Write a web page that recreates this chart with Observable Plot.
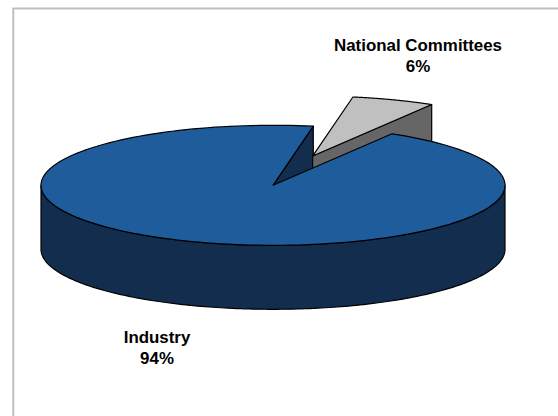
<!DOCTYPE html>
<html>
<head>
<meta charset="utf-8">
<script src="https://cdn.jsdelivr.net/npm/d3@7"></script>
<script src="https://cdn.jsdelivr.net/npm/@observablehq/plot@0.6"></script>
<style>html,body{margin:0;padding:0;background:#fff}svg{display:block}</style>
</head>
<body>
<div id="chart"></div>
<script>
const categories = ["Industry", "National Committees"];
const shares = [94.2, 5.8];
const pctLabels = ["94%", "6%"];

// layout of the tilted pie, in unit-radius coordinates
const W = 558, H = 416, cx = 272.5, cy = 184.8, rPx = 232;
const tilt = 60 / 232, depth = 64 / 232, explodeX = 0.489, explodeY = 0.52, firstAngle = 10;
const rad = d => d * Math.PI / 180;
const total = d3.sum(shares);
const sweepNC = shares[1] / total * 360, sweepIn = shares[0] / total * 360;
const a0NC = firstAngle, a1NC = firstAngle + sweepNC, a0In = a1NC, a1In = a1NC + sweepIn;

const pt = (a, r = 1, ox = 0, oy = 0, dz = 0) => ({
  x: ox + r * Math.sin(rad(a)),
  y: oy + r * Math.cos(rad(a)) * tilt - dz
});
const arc = (a, b, ox = 0, oy = 0, dz = 0) =>
  d3.range(0, 181).map(i => pt(a + (b - a) * i / 180, 1, ox, oy, dz));
const poly = (name, fill, pts) => pts.map(p => ({...p, name, fill}));

const mid = (a0NC + a1NC) / 2;
const ex = explodeX * Math.sin(rad(mid)), ey = explodeY * Math.cos(rad(mid)) * tilt;

const shapes = [
  // inner cut face of Industry
  poly("cut", "#122d4d", [pt(0, 0), pt(a1In), pt(a1In, 1, 0, 0, depth), pt(0, 0, 0, 0, depth)]),
  // National Committees: front cut face then top
  poly("ncSide", "#666666", [pt(0, 0, ex, ey), pt(a1NC, 1, ex, ey), pt(a1NC, 1, ex, ey, depth), pt(0, 0, ex, ey, depth)]),
  poly("ncTop", "#c0c0c0", [pt(0, 0, ex, ey), ...arc(a0NC, a1NC, ex, ey)]),
  // Industry: outer wall then top
  poly("wall", "#122d4d", [...arc(90, 270), ...arc(270, 90, 0, 0, depth)]),
  poly("top", "#1f5c9b", [pt(0, 0), ...arc(a0In, a1In)])
];

const labels = [
  {x: (156.5 - cx) / rPx, y: (cy - 346) / rPx, text: categories[0] + "\n" + pctLabels[0]},
  {x: (417.5 - cx) / rPx, y: (cy - 54) / rPx, text: categories[1] + "\n" + pctLabels[1]}
];

const chart = Plot.plot({
  width: W, height: H,
  margin: 0,
  style: {background: "#fff"},
  x: {domain: [-cx / rPx, (W - cx) / rPx], range: [0, W], axis: null},
  y: {domain: [(cy - H) / rPx, cy / rPx], range: [H, 0], axis: null},
  marks: [
    Plot.ruleY([(cy - 8) / rPx], {x1: (12.5 - cx) / rPx, x2: (W - cx) / rPx, stroke: "#c0c0c0", strokeWidth: 2}),
    Plot.ruleX([(12.8 - cx) / rPx], {y1: (cy - 8) / rPx, y2: (cy - H) / rPx, stroke: "#c0c0c0", strokeWidth: 2}),
    ...shapes.map(s => Plot.line(s, {
      x: "x", y: "y", curve: "linear-closed",
      fill: s[0].fill, stroke: "#000", strokeWidth: 1.2, strokeLinejoin: "round"
    })),
    Plot.text(labels, {
      x: "x", y: "y", text: "text", lineHeight: 1.29,
      fontFamily: "Liberation Sans, Arial, sans-serif", fontWeight: "bold", fontSize: 16.9, fill: "#000"
    })
  ]
});
document.getElementById("chart").append(chart);
</script>
</body>
</html>
